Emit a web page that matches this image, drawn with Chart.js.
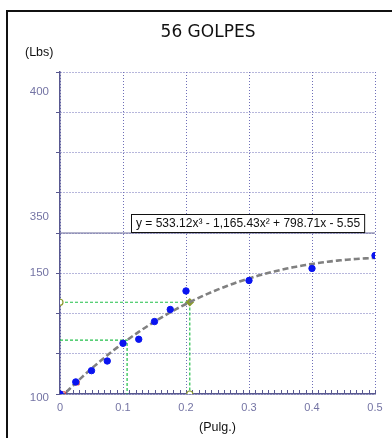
<!DOCTYPE html>
<html>
<head>
<meta charset="utf-8">
<script src="https://cdn.jsdelivr.net/npm/chart.js@4.4.1/dist/chart.umd.min.js"></script>
<style>
  html, body { margin: 0; padding: 0; background: #fff; overflow: hidden; }
  #wrap { position: relative; width: 392px; height: 438px; overflow: hidden; background: #fff; }
  #frame { position: absolute; left: 6px; top: 10px; width: 430px; height: 470px;
           border: 2px solid #111; box-sizing: border-box; }
  canvas { position: absolute; left: 0; top: 0; }
</style>
</head>
<body>
<div id="wrap">
  <div id="frame"></div>
  <canvas id="c" width="392" height="438"></canvas>
</div>
<script>
// ---- data ----
const chartTitle = '56 GOLPES';
const yAxisTitle = '(Lbs)';
const xAxisTitle = '(Pulg.)';

// penetration (in) vs load (lb)
const penetration = [0, 0.025, 0.05, 0.075, 0.1, 0.125, 0.15, 0.175, 0.2, 0.3, 0.4, 0.5];
const load        = [0, 15, 29, 41, 63, 68, 90, 105, 128, 141, 156, 172];

// corrected origin markers
const originX = [0.005, 0.027];
const originY = [0, 14];

// cubic trend: a3, a2, a1, a0
const fitCoefs = [533.12, -1165.43, 798.71, -5.55];

// read-off guides (0.1" and 0.2" corrected)
const guideX = [0.1065, 0.206];
const guideY = [67, 114];

// reference level line
const refLevel = 200;

// y-axis tick labels and where they sit on the load scale
const yTickValues = [-5, 150, 220, 375];
const yTickLabels = ['100', '150', '350', '400'];

// ---- helpers ----
const fit = x => fitCoefs[0] * x ** 3 + fitCoefs[1] * x ** 2 + fitCoefs[2] * x + fitCoefs[3];
const fmt = v => Math.abs(v).toLocaleString('en-US', { minimumFractionDigits: 2, maximumFractionDigits: 2 });
const sgn = v => (v < 0 ? ' - ' : ' + ');
const equation = 'y = ' + fmt(fitCoefs[0]) + 'x\u00B3' +
  sgn(fitCoefs[1]) + fmt(fitCoefs[1]) + 'x\u00B2' +
  sgn(fitCoefs[2]) + fmt(fitCoefs[2]) + 'x' +
  sgn(fitCoefs[3]) + fmt(fitCoefs[3]);

const trendPts = [];
for (let i = 0; i <= 100; i++) {
  const x = i * 0.005;
  trendPts.push({ x, y: fit(x) });
}

const axisColor = '#585890';
const gridColor = '#6e6eb8';
const tickColor = '#7474a4';
const guideColor = '#22c04a';
const olive = '#8a9a2e';
const SANS = '"Liberation Sans", Arial, sans-serif';

const guideSets = guideX.map((gx, i) => ({
  type: 'line',
  data: [{ x: 0, y: guideY[i] }, { x: gx, y: guideY[i] }, { x: gx, y: 0 }],
  borderColor: guideColor,
  borderWidth: 1.2,
  borderDash: [3, 2],
  fill: false,
  tension: 0,
  pointRadius: i === 1 ? [3, 3.5, 3] : 0,
  pointStyle: i === 1 ? ['circle', 'rectRot', 'circle'] : 'circle',
  pointBackgroundColor: i === 1 ? ['#fff', olive, '#fff'] : 'transparent',
  pointBorderColor: olive,
  pointBorderWidth: 1.2,
  order: 3
}));

// minor ticks along the x axis (inside the plot)
const minorTicks = {
  id: 'minorTicks',
  beforeDatasetsDraw(chart) {
    const { ctx, scales: { x }, chartArea } = chart;
    ctx.save();
    ctx.strokeStyle = axisColor;
    ctx.lineWidth = 1;
    ctx.beginPath();
    for (let k = 0; k <= 50; k++) {
      const px = Math.round(x.getPixelForValue(k / 100)) + 0.5;
      ctx.moveTo(px, chartArea.bottom);
      ctx.lineTo(px, chartArea.bottom - 4);
    }
    ctx.stroke();
    ctx.restore();
  }
};

// title, y caption, and equation label
const captions = {
  id: 'captions',
  afterDraw(chart) {
    const { ctx, scales: { y }, chartArea } = chart;
    ctx.save();
    ctx.fillStyle = '#111';
    ctx.textBaseline = 'middle';
    ctx.textAlign = 'center';
    ctx.font = '17px "DejaVu Sans", Verdana, sans-serif';
    ctx.fillText(chartTitle, 208, 33);

    ctx.textAlign = 'left';
    ctx.font = '12.5px ' + SANS;
    ctx.fillText(yAxisTitle, 25, 53);

    // equation box
    ctx.font = '12px ' + SANS;
    const w = ctx.measureText(equation).width;
    const bx = chartArea.left + 71;
    const by = Math.round(y.getPixelForValue(refLevel)) - 19;
    ctx.fillStyle = '#fff';
    ctx.fillRect(bx, by, w + 9, 18);
    ctx.strokeStyle = '#111';
    ctx.lineWidth = 1;
    ctx.strokeRect(bx + 0.5, by + 0.5, w + 9, 18);
    ctx.fillStyle = '#111';
    ctx.fillText(equation, bx + 5, by + 10);
    ctx.restore();
  }
};

new Chart(document.getElementById('c'), {
  data: {
    datasets: [
      {
        type: 'scatter',
        data: penetration.map((x, i) => ({ x, y: load[i] })),
        backgroundColor: '#0a14f0',
        borderColor: '#0a14f0',
        pointRadius: 3.2,
        pointHoverRadius: 3.2,
        order: 0
      },
      {
        type: 'scatter',
        data: originX.map((x, i) => ({ x, y: originY[i] })),
        pointStyle: 'rect',
        backgroundColor: 'transparent',
        borderColor: '#d03030',
        borderWidth: 1,
        pointRadius: 3,
        order: 1
      },
      {
        type: 'line',
        data: trendPts,
        borderColor: '#808080',
        borderWidth: 2.6,
        borderDash: [6, 3],
        pointRadius: 0,
        fill: false,
        tension: 0,
        order: 2
      },
      ...guideSets,
      {
        type: 'line',
        data: [{ x: 0, y: refLevel }, { x: 0.5, y: refLevel }],
        borderColor: '#6a6a98',
        borderWidth: 1,
        pointRadius: 0,
        fill: false,
        order: 5
      }
    ]
  },
  options: {
    responsive: false,
    animation: false,
    layout: { padding: { top: 72, right: 17, left: 0, bottom: 0 } },
    plugins: { legend: { display: false }, tooltip: { enabled: false }, title: { display: false } },
    scales: {
      x: {
        type: 'linear', position: 'bottom', min: 0, max: 0.5,
        ticks: {
          stepSize: 0.1, color: tickColor, padding: 7,
          font: { family: SANS, size: 11 },
          callback: v => String(+v.toFixed(1))
        },
        grid: { color: gridColor, lineWidth: 1, drawTicks: false },
        border: { display: true, color: axisColor, width: 1.5, dash: [1, 2] },
        title: {
          display: true, text: xAxisTitle, color: '#111',
          font: { family: SANS, size: 12.5 }, padding: { top: 0, bottom: 3 }
        },
        afterFit(s) { s.height = 44; }
      },
      y: {
        type: 'linear', position: 'left', weight: 0, min: 0, max: 400,
        ticks: { display: false, stepSize: 50 },
        grid: { color: gridColor, lineWidth: 1, drawTicks: true, tickLength: 4,
                tickColor: axisColor, tickWidth: 1, tickBorderDash: [] },
        border: { display: true, color: axisColor, width: 1.5, dash: [1, 2] },
        afterFit(s) { s.width = 0; }
      },
      yl: {
        type: 'linear', position: 'left', weight: 1, min: 0, max: 400,
        afterBuildTicks(s) { s.ticks = yTickValues.map(v => ({ value: v })); },
        ticks: {
          color: tickColor, padding: 11,
          font: { family: SANS, size: 11.5 },
          callback: (v, i) => yTickLabels[i]
        },
        grid: { display: false, drawTicks: false },
        border: { display: false },
        afterFit(s) { s.width = 60; }
      }
    }
  },
  plugins: [minorTicks, captions]
});
</script>
</body>
</html>
